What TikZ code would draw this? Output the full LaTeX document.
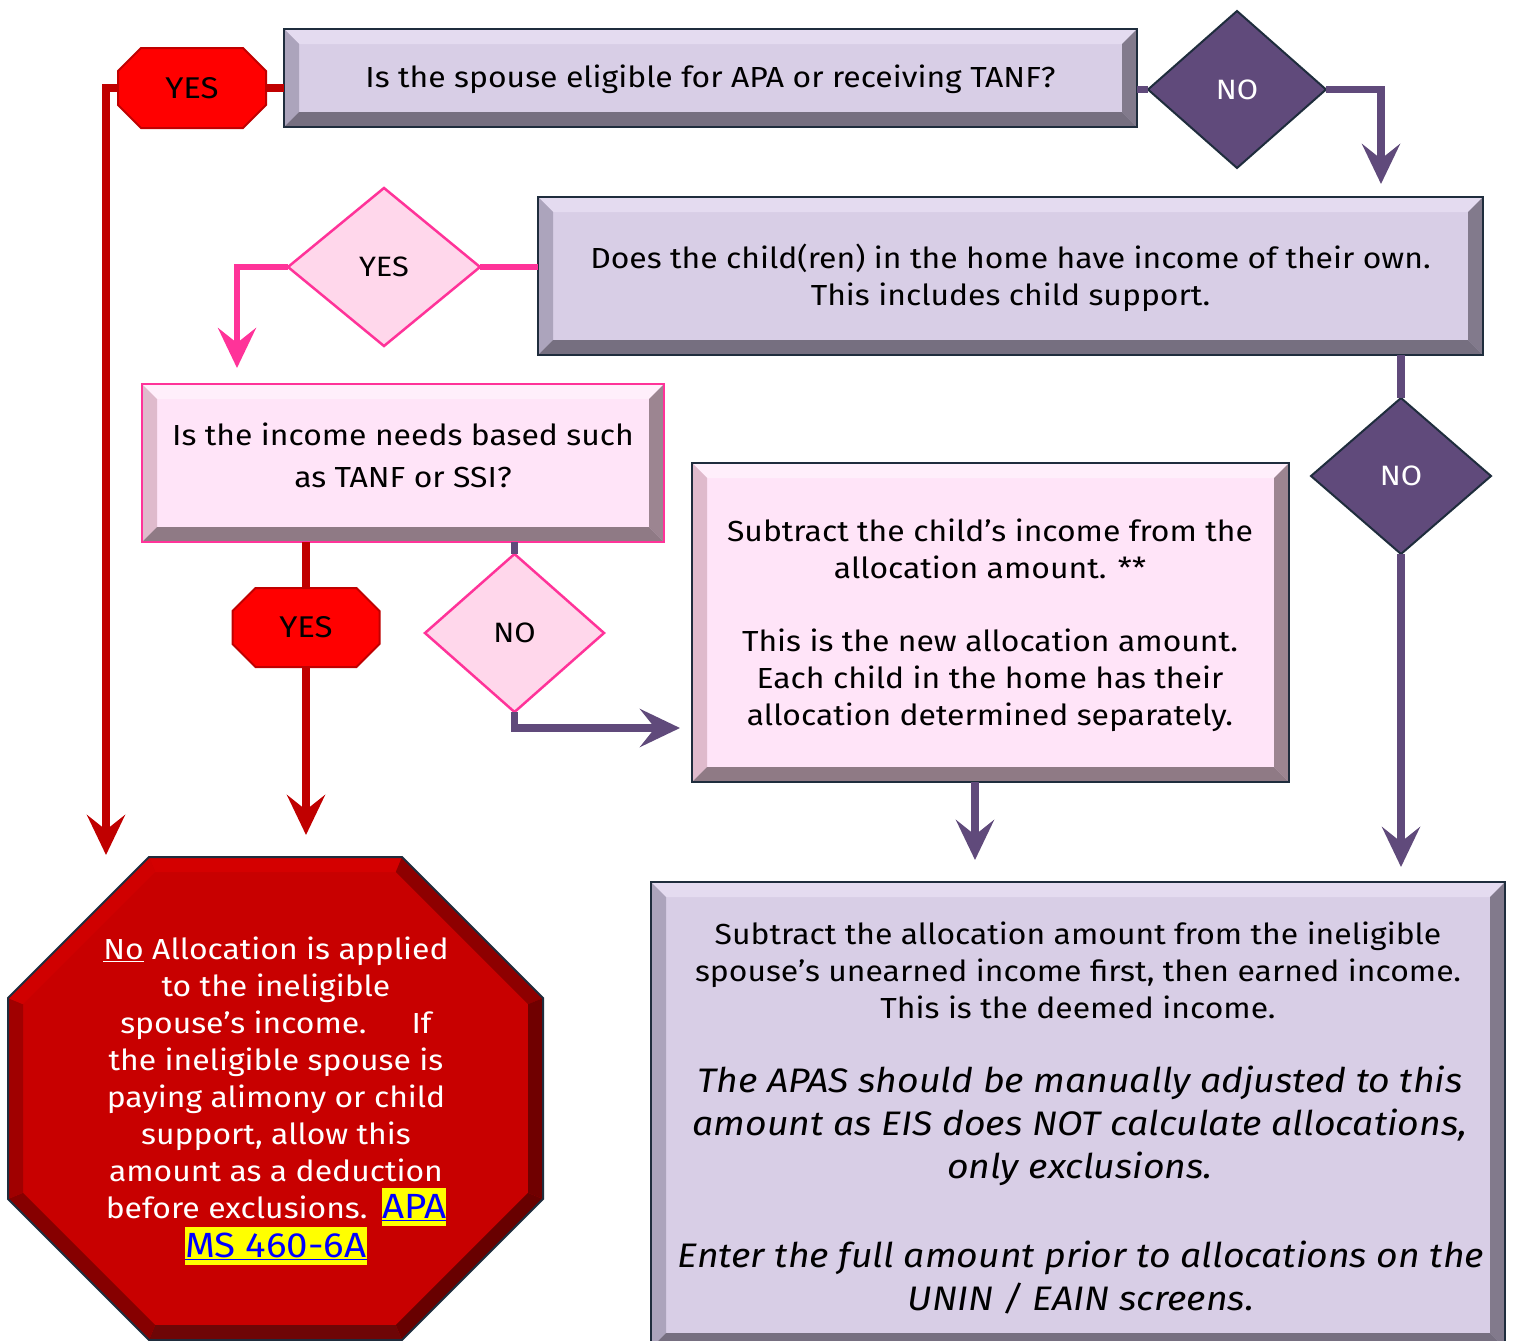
\documentclass[tikz,border=0pt]{standalone}
\usepackage{fontspec}
\setmainfont{Fira Sans}[FakeStretch=1.1]
\usetikzlibrary{arrows.meta,shapes.geometric,backgrounds}
\definecolor{redline}{HTML}{C00000}
\definecolor{redfill}{HTML}{FF0000}
\definecolor{plum}{HTML}{604A7B}
\definecolor{navy}{HTML}{1F2D3D}
\definecolor{pinkline}{HTML}{FF3399}
\definecolor{pinkdia}{HTML}{FFD7EB}
\definecolor{pface}{HTML}{D8CEE6}
\definecolor{ptop}{HTML}{E4DBF0}
\definecolor{pleft}{HTML}{ACA4BC}
\definecolor{pright}{HTML}{827A8C}
\definecolor{pbottom}{HTML}{766F80}
\definecolor{kface}{HTML}{FFE4F8}
\definecolor{ktop}{HTML}{FFEFFB}
\definecolor{kleft}{HTML}{DFBACC}
\definecolor{kright}{HTML}{9C8591}
\definecolor{kbottom}{HTML}{8F7A85}
\definecolor{hlyellow}{HTML}{FFFF00}
\definecolor{linkblue}{HTML}{0000FF}
\definecolor{oface}{HTML}{C80000}
\definecolor{otop}{HTML}{D40000}
\definecolor{otl}{HTML}{D00000}
\definecolor{oleft}{HTML}{A00000}
\definecolor{obl}{HTML}{860000}
\definecolor{obot}{HTML}{6E0606}
\definecolor{obr}{HTML}{680000}
\definecolor{oright}{HTML}{700000}
\definecolor{otr}{HTML}{8E0000}
\newcommand\hlink[1]{{\setlength{\fboxsep}{0pt}\colorbox{hlyellow}{\rule[-7pt]{0pt}{38pt}\fontsize{35}{37}\selectfont\color{linkblue}\underline{#1}}}}
\newcommand\chamf[2]{%
  \begin{scope}[on background layer]
  \path[yesshape] ([xshift=#2]#1.north west) -- ([xshift=-#2]#1.north east) -- ([yshift=-#2]#1.north east) -- ([yshift=#2]#1.south east) -- ([xshift=-#2]#1.south east) -- ([xshift=#2]#1.south west) -- ([yshift=#2]#1.south west) -- ([yshift=-#2]#1.north west) -- cycle;
  \end{scope}}
\tikzset{
  bevelbox/.style n args={5}{rectangle, fill=#1, path picture={
    \fill[#2] (path picture bounding box.north west) -- (path picture bounding box.north east) -- ([shift={(-15pt,-15pt)}]path picture bounding box.north east) -- ([shift={(15pt,-15pt)}]path picture bounding box.north west) -- cycle;
    \fill[#3] (path picture bounding box.north west) -- ([shift={(15pt,-15pt)}]path picture bounding box.north west) -- ([shift={(15pt,15pt)}]path picture bounding box.south west) -- (path picture bounding box.south west) -- cycle;
    \fill[#4] (path picture bounding box.north east) -- ([shift={(-15pt,-15pt)}]path picture bounding box.north east) -- ([shift={(-15pt,15pt)}]path picture bounding box.south east) -- (path picture bounding box.south east) -- cycle;
    \fill[#5] (path picture bounding box.south west) -- ([shift={(15pt,15pt)}]path picture bounding box.south west) -- ([shift={(-15pt,15pt)}]path picture bounding box.south east) -- (path picture bounding box.south east) -- cycle;
  }},
  purplebox/.style={bevelbox={pface}{ptop}{pleft}{pright}{pbottom}, draw=navy, line width=2.5pt},
  pinkbox/.style={bevelbox={kface}{ktop}{kleft}{kright}{kbottom}, line width=2.5pt},
  txt/.style={font=\fontsize{29}{37}\selectfont, align=center, text=black},
  ittxt/.style={font=\fontsize{34}{43}\selectfont\itshape, align=center, text=black},
  yestxt/.style={font=\fontsize{30}{32}\selectfont, text=black},
  yesshape/.style={fill=redfill, draw=redline, line width=2pt},
  darkdia/.style={diamond, fill=plum, draw=navy, line width=2pt, text=white, font=\fontsize{28}{30}\selectfont},
  pinkdiam/.style={diamond, fill=pinkdia, draw=pinkline, line width=2.5pt, text=black, font=\fontsize{28}{30}\selectfont},
  redcon/.style={draw=redline, line width=7.5pt},
  purplecon/.style={draw=plum, line width=7.5pt},
  pinkcon/.style={draw=pinkline, line width=6pt},
  arrowend/.style={-{Stealth[length=40pt,width=38pt,inset=15pt]}},
}
\begin{document}
\begin{tikzpicture}[x=1pt,y=-1pt, every node/.style={inner sep=0pt, outer sep=0pt}]
\useasboundingbox (0,0) rectangle (1513,1341);
\begin{scope}[on background layer]
\fill[white] (0,0) rectangle (1513,1341);
\end{scope}

% boxes
\node[purplebox, minimum width=853pt, minimum height=98pt] (box1) at (710.5,78) {};
\node[txt] (box1text) at (710.5,79) {Is the spouse eligible for APA or receiving TANF?};

\node[purplebox, minimum width=945pt, minimum height=158pt] (box2) at (1010.5,276) {};
\node[txt] (box2text) at (1010.5,277.5) {Does the child(ren) in the home have income of their own.\\This includes child support.};

\node[pinkbox, draw=pinkline, minimum width=522pt, minimum height=158pt] (box3) at (403,463) {};
\node[txt, font=\fontsize{29}{42}\selectfont] (box3text) at (403,455) {Is the income needs based such\\as TANF or SSI?};

\node[pinkbox, draw=navy, minimum width=597pt, minimum height=319pt] (box4) at (990.5,622.5) {};
\node[txt] (box4text) at (990,625) {Subtract the child’s income from the\\allocation amount. **\\[36pt]This is the new allocation amount.\\Each child in the home has their\\allocation determined separately.};

\node[purplebox, minimum width=854pt, minimum height=466pt] (box5) at (1078,1115) {};
\node[txt] (b5a) at (1078,970) {Subtract the allocation amount from the ineligible\\spouse’s unearned income first, then earned income.\\This is the deemed income.};
\node[ittxt] (b5b) at (1080,1126) {The APAS should be manually adjusted to this\\amount as EIS does NOT calculate allocations,\\only exclusions.};
\node[ittxt] (b5c) at (1081,1277) {Enter the full amount prior to allocations on the\\UNIN / EAIN screens.};

% yes octagons
\node[yestxt, minimum width=148pt, minimum height=80pt] (yes1) at (192,88) {YES};
\chamf{yes1}{23pt}
\node[yestxt, minimum width=147pt, minimum height=79pt] (yes3) at (306,627.5) {YES};
\chamf{yes3}{23pt}

% diamonds
\node[darkdia, minimum width=178pt, minimum height=157pt] (no1) at (1237,89.5) {NO};
\node[pinkdiam, minimum width=192pt, minimum height=158pt] (yes2) at (384,267) {YES};
\node[pinkdiam, minimum width=179pt, minimum height=158pt] (no3) at (514.5,633) {NO};
\node[darkdia, minimum width=180pt, minimum height=156pt] (no4) at (1401,476) {NO};

% big stop octagon
\fill[oface] (149,857) -- (402,857) -- (543,998) -- (543,1199) -- (402,1340) -- (149,1340) -- (8,1199) -- (8,998) -- cycle;
\fill[otop] (149,857) -- (402,857) -- (395.8,872) -- (155.2,872) -- cycle;
\fill[otr] (402,857) -- (543,998) -- (528,1004.2) -- (395.8,872) -- cycle;
\fill[oright] (543,998) -- (543,1199) -- (528,1192.8) -- (528,1004.2) -- cycle;
\fill[obr] (543,1199) -- (402,1340) -- (395.8,1325) -- (528,1192.8) -- cycle;
\fill[obot] (402,1340) -- (149,1340) -- (155.2,1325) -- (395.8,1325) -- cycle;
\fill[obl] (149,1340) -- (8,1199) -- (23,1192.8) -- (155.2,1325) -- cycle;
\fill[oleft] (8,1199) -- (8,998) -- (23,1004.2) -- (23,1192.8) -- cycle;
\fill[otl] (8,998) -- (149,857) -- (155.2,872) -- (23,1004.2) -- cycle;
\draw[navy, line width=2pt, line join=miter] (149,857) -- (402,857) -- (543,998) -- (543,1199) -- (402,1340) -- (149,1340) -- (8,1199) -- (8,998) -- cycle;
\node[font=\fontsize{29}{37}\selectfont, align=center, text=white] (stoptext) at (276,1101) {\underline{No} Allocation is applied\\to the ineligible\\spouse’s income.\hspace*{45pt}If\\the ineligible spouse is\\paying alimony or child\\support, allow this\\amount as a deduction\\before exclusions.\enspace\hlink{APA}\\\hlink{MS 460-6A}};

% arrow ends
\coordinate (t1) at (106,855);
\coordinate (t2) at (1381,184);
\coordinate (t3) at (237,368);
\coordinate (t4) at (306,835);
\coordinate (t5) at (680,728);
\coordinate (t6) at (975,860);
\coordinate (t7) at (1401,867);

% connectors
\draw[redcon] (yes1.east) -- (yes1.east -| box1.west);
\draw[redcon, arrowend] (yes1.west) -| (t1);
\draw[purplecon] (box1.east |- no1.west) -- (no1.west);
\draw[purplecon, arrowend] (no1.east) -| (t2);
\draw[pinkcon] (box2.west |- yes2.east) -- (yes2.east);
\draw[pinkcon, arrowend] (yes2.west) -| (t3);
\draw[redcon] (box3.south -| yes3.north) -- (yes3.north);
\draw[redcon, arrowend] (yes3.south) -- (t4);
\draw[purplecon] (box3.south -| no3.north) -- (no3.north);
\draw[purplecon, arrowend] (no3.south) |- (t5);
\draw[purplecon, arrowend] (box4.south -| t6) -- (t6);
\draw[purplecon] (box2.south -| no4.north) -- (no4.north);
\draw[purplecon, arrowend] (no4.south) -- (t7);
\end{tikzpicture}
\end{document}
